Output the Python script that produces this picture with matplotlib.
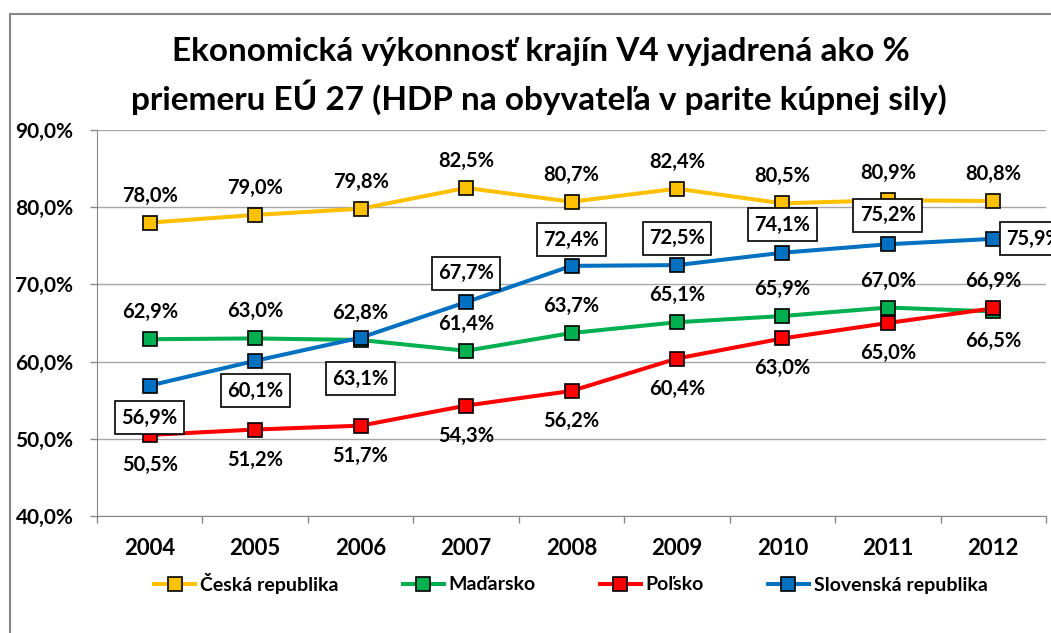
import matplotlib
matplotlib.use('Agg')
import matplotlib.pyplot as plt
from matplotlib.lines import Line2D

plt.rcParams['font.family'] = ['Lato', 'DejaVu Sans']
plt.rcParams['font.weight'] = 'bold'

# data
roky = ['2004', '2005', '2006', '2007', '2008', '2009', '2010', '2011', '2012']
cesko = [78.0, 79.0, 79.8, 82.5, 80.7, 82.4, 80.5, 80.9, 80.8]
madarsko = [62.9, 63.0, 62.8, 61.4, 63.7, 65.1, 65.9, 67.0, 66.5]
polsko = [50.5, 51.2, 51.7, 54.3, 56.2, 60.4, 63.0, 65.0, 66.9]
slovensko = [56.9, 60.1, 63.1, 67.7, 72.4, 72.5, 74.1, 75.2, 75.9]

nazvy = ['Česká republika', 'Maďarsko', 'Poľsko', 'Slovenská republika']
farby = ['#FFC000', '#00B050', '#FF0000', '#0070C0']

# umiestnenie popisov (posun v pixeloch)
pos_cz = [(0, 27)] * 9
pos_hu = [(0, 27)] * 8 + [(0, -30)]
pos_pl = [(0, -30)] * 8 + [(0, 27)]
pos_sk = [(0, -32), (0, -30), (0, -41), (0, 29), (0, 26), (0, 27), (0, 28), (0, 29), (13, 0)]


def fmt(v):
    return f'{v:.1f}'.replace('.', ',') + '%'


fig = plt.figure(figsize=(10.51, 6.33), dpi=100)
ax = fig.add_axes([97 / 1051, 117 / 633, 949 / 1051, 386 / 633])

x = list(range(len(roky)))
serie = [cesko, madarsko, polsko, slovensko]
for i, (vals, farba, nazov) in enumerate(zip(serie, farby, nazvy)):
    ax.plot(x, vals, color=farba, lw=2.9, marker='s', ms=10.5, mfc=farba,
            mec='black', mew=1.2, label=nazov, zorder=3 + i)

for vals, poz in [(cesko, pos_cz), (madarsko, pos_hu), (polsko, pos_pl)]:
    for xi, v, (dx, dy) in zip(x, vals, poz):
        ax.annotate(fmt(v), (xi, v), xytext=(dx, dy), textcoords='offset pixels',
                    ha='center', va='center', fontsize=14.5, fontweight='bold',
                    zorder=10, annotation_clip=False)

for xi, v, (dx, dy) in zip(x, slovensko, pos_sk):
    ax.annotate(fmt(v), (xi, v), xytext=(dx, dy), textcoords='offset pixels',
                ha='left' if dx > 0 else 'center', va='center', fontsize=14.5,
                fontweight='bold', zorder=10, annotation_clip=False,
                bbox=dict(boxstyle='square,pad=0.32', fc='white', ec='black', lw=1.2))

ax.set_xlim(-0.5, len(roky) - 0.5)
ax.set_ylim(40, 90)
ax.set_yticks(range(40, 91, 10))
ax.set_yticklabels([f'{t},0%' for t in range(40, 91, 10)])
ax.set_xticks(x)
ax.set_xticklabels(roky)
ax.set_xticks([i - 0.5 for i in range(len(roky) + 1)], minor=True)
ax.tick_params(axis='x', which='major', length=0, pad=16, labelsize=16)
ax.tick_params(axis='x', which='minor', length=5, color='#888888', width=1)
ax.tick_params(axis='y', length=5, color='#888888', width=1, pad=12, labelsize=15)
ax.grid(axis='y', color='#a6a6a6', lw=1)
ax.set_axisbelow(True)
for s in ['top', 'right']:
    ax.spines[s].set_visible(False)
for s in ['left', 'bottom']:
    ax.spines[s].set_color('#888888')

fig.text(541 / 1051, 1 - 52 / 633, 'Ekonomická výkonnosť krajín V4 vyjadrená ako %',
         ha='center', va='center', fontsize=24, fontweight='bold')
fig.text(539 / 1051, 1 - 97 / 633, 'priemeru EÚ 27 (HDP na obyvateľa v parite kúpnej sily)',
         ha='center', va='center', fontsize=24, fontweight='bold')

fig.legend(loc='center', bbox_to_anchor=(571 / 1051, 1 - 583 / 633), ncol=4,
           frameon=False, handlelength=2.1, handletextpad=0.25, columnspacing=3.3,
           borderpad=0, prop={'weight': 'bold', 'size': 14})

# sivy ramcek okolo grafu
fig.add_artist(Line2D([10 / 1051, 10 / 1051], [0, 1 - 14 / 633], color='#888888', lw=1.5))
fig.add_artist(Line2D([10 / 1051, 1], [1 - 14 / 633, 1 - 14 / 633], color='#888888', lw=1.5))

fig.savefig('out.png', dpi=100)
